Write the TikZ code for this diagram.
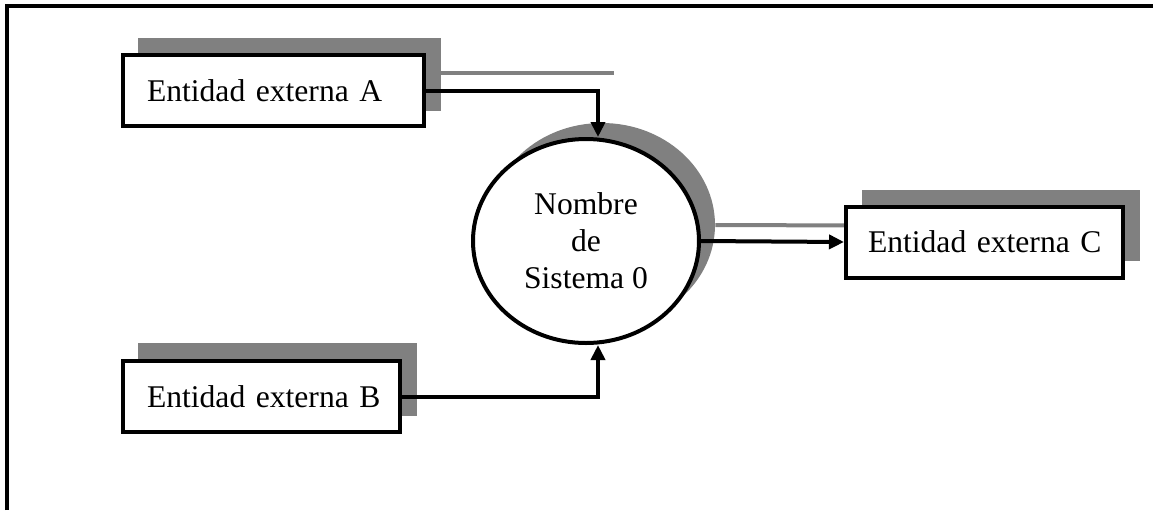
\documentclass[tikz,border=0pt]{standalone}
\usepackage{fontspec}
\setmainfont{Liberation Serif}
\usetikzlibrary{arrows.meta,shapes.geometric}

\definecolor{shade}{HTML}{808080}

\tikzset{
  entity/.style={draw=black, line width=2pt, fill=white, rectangle,
    minimum height=35.5pt, inner xsep=6pt, inner ysep=0pt, align=left,
    font=\fontsize{15.8}{18.5}\selectfont},
  entshadow/.style={fill=shade, draw=none, rectangle, inner sep=0pt},
  process/.style={draw=black, line width=2pt, fill=white, ellipse,
    minimum width=113pt, minimum height=102pt, inner sep=0pt, align=center,
    font=\fontsize{15.8}{18.5}\selectfont},
  procshadow/.style={fill=shade, draw=none, ellipse,
    minimum width=113pt, minimum height=102pt, inner sep=0pt},
  flow/.style={draw=black, line width=2pt,
    -{Triangle[length=7.5pt,width=7pt]}},
  shadeflow/.style={draw=shade, line width=2pt},
  frame/.style={draw=black, line width=1.6pt}
}

\begin{document}
\begin{tikzpicture}[x=0.5pt,y=-0.5pt]
  \useasboundingbox (0,0) rectangle (1153,510);

  % outer frame (top and left rules)
  \draw[frame] (7,510) -- (7,6) -- (1153,6);

  % drop shadows
  \node[entshadow, minimum width=151.5pt, minimum height=36.5pt] (shA) at (289.5,74.5) {};
  \node[entshadow, minimum width=139.5pt, minimum height=36.5pt] (shB) at (277.5,379.5) {};
  \node[entshadow, minimum width=139pt, minimum height=35.5pt] (shC) at (1001,225.5) {};
  \node[procshadow] (shP) at (602,225) {};

  % shadow traces of the flows
  \coordinate (shAend) at (614,73);
  \draw[shadeflow] (shA.east |- shAend) -- (shAend);
  \draw[shadeflow, -{Triangle[length=8pt,width=6.5pt]}] (shP.east) -- (shC.west);

  % external entities (text set 12pt in from the left edge)
  \node[entity, minimum width=150.5pt, text width=138.5pt] (A) at (273.5,90.5) {\hspace*{6pt}Entidad externa A};
  \node[entity, minimum width=138.5pt, text width=126.5pt] (B) at (261.5,396.5) {\hspace*{6pt}Entidad externa B};
  \node[entity, minimum width=138.5pt, text width=126.5pt] (C) at (984.5,242) {\hspace*{5pt}Entidad externa C};

  % process
  \node[process] (P) at (586,241) {Nombre\\de\\Sistema 0};

  % data flows
  \draw[flow] (A.east) -| ([xshift=6pt]P.north);
  \draw[flow] (B.east) -| ([xshift=6pt]P.south);
  \draw[flow] (P.east) -- (C.west);
\end{tikzpicture}
\end{document}
